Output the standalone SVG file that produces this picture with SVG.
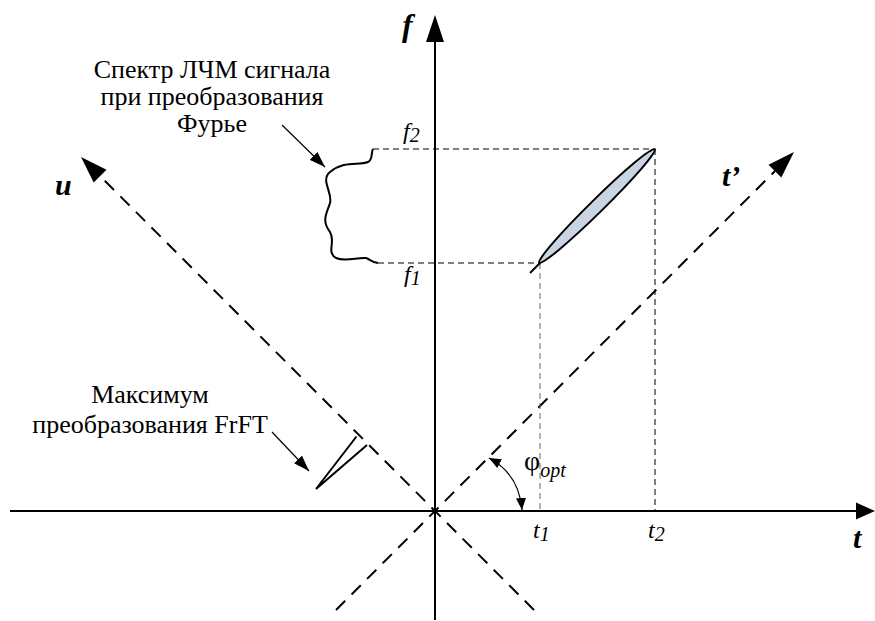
<svg xmlns="http://www.w3.org/2000/svg" width="875" height="621" viewBox="0 0 875 621">
<defs>
<style>
.ax{stroke:#000;stroke-width:2;fill:none}
.dl{stroke:#000;stroke-width:2;fill:none;stroke-dasharray:13 9}
.pr{stroke:#000;stroke-width:1;fill:none;stroke-dasharray:6 4}
.thin{stroke:#000;stroke-width:1.2;fill:none}
.lbl{font-family:"Liberation Serif","Times New Roman",serif;font-size:26px;fill:#000}
.it{font-family:"Liberation Serif","Times New Roman",serif;font-style:italic;fill:#000}
.bi{font-family:"Liberation Serif","Times New Roman",serif;font-style:italic;font-weight:bold;fill:#000}
</style>
<marker id="ah" viewBox="0 0 12 10" refX="12" refY="5" markerWidth="12" markerHeight="10" markerUnits="userSpaceOnUse" orient="auto-start-reverse">
<path d="M0,0 L12,5 L0,10 Z" fill="#000"/>
</marker>
<marker id="ap" viewBox="0 0 16 11" refX="16" refY="5.5" markerWidth="16" markerHeight="11" markerUnits="userSpaceOnUse" orient="auto">
<path d="M0,0 L16,5.5 L0,11 Z" fill="#000"/>
</marker>
</defs>
<g id="axes">
<line class="ax" x1="10" y1="511" x2="857" y2="511"/>
<polygon points="875,511 856,502.5 856,519.5" fill="#000"/>
<line class="ax" x1="435" y1="620" x2="435" y2="40"/>
<polygon points="435,15 426,42 444,42" fill="#000"/>
<line class="dl" x1="336" y1="610" x2="775" y2="171"/>
<polygon points="794,152 781.3,177.5 768.5,164.7" fill="#000"/>
<line class="dl" x1="534" y1="610" x2="100" y2="176"/>
<polygon points="81,157 106.5,169.7 93.7,182.5" fill="#000"/>
</g>
<g id="connectors">
<line class="pr" x1="373" y1="149" x2="655" y2="149"/>
<line class="pr" x1="378" y1="263" x2="540" y2="263"/>
<line class="pr" x1="540" y1="263" x2="540" y2="511" style="stroke:#666"/>
<line class="pr" x1="655" y1="149" x2="655" y2="511"/>
<line class="thin" x1="282" y1="125" x2="325" y2="167" marker-end="url(#ap)"/>
<line class="thin" x1="272" y1="432" x2="309" y2="471" marker-end="url(#ap)"/>
<path class="thin" d="M489,458 Q519,474 522,510" marker-start="url(#ah)" marker-end="url(#ah)"/>
</g>
<g id="spectrum">
<path d="M373,149 C371,152 373,160 368,162 C358,166 345,160 330,172 C320,180 333,193 330,203 C327,213 321,220 330,232 C336,242 326,252 336,258 C345,262 358,257 366,258 C370,259 372,263 378,263" fill="none" stroke="#000" stroke-width="2"/>
</g>
<g id="signal">
<line x1="530" y1="273" x2="540" y2="263" stroke="#000" stroke-width="2"/>
<ellipse cx="597" cy="206" rx="81" ry="6.5" transform="rotate(-44.5 597 206)" fill="#c9d5e3" stroke="#000" stroke-width="2"/>
</g>
<g id="frft-max">
<path d="M356.5,436.5 L316,489 L367,445" fill="none" stroke="#000" stroke-width="2"/>
</g>
<g id="labels">
<text class="lbl" x="212" y="78" text-anchor="middle">Спектр ЛЧМ сигнала</text>
<text class="lbl" x="212" y="105" text-anchor="middle">при преобразования</text>
<text class="lbl" x="212" y="132" text-anchor="middle">Фурье</text>
<text class="lbl" x="150" y="403" text-anchor="middle">Максимум</text>
<text class="lbl" x="150" y="433" text-anchor="middle">преобразования FrFT</text>
<text class="bi" x="402" y="36" font-size="32">f</text>
<text class="bi" x="55" y="195" font-size="30">u</text>
<text class="bi" x="722" y="186" font-size="30">t’</text>
<text class="bi" x="853" y="548" font-size="30">t</text>
<text class="it" x="403" y="139" font-size="24">f<tspan font-size="20" dy="3">2</tspan></text>
<text class="it" x="404" y="282" font-size="24">f<tspan font-size="20" dy="3">1</tspan></text>
<text class="it" x="533" y="538" font-size="24">t<tspan font-size="20" dy="3">1</tspan></text>
<text class="it" x="648" y="538" font-size="24">t<tspan font-size="20" dy="3">2</tspan></text>
<text x="524" y="470" font-family="Liberation Serif, serif" font-size="28">φ<tspan class="it" font-size="20" dy="7">opt</tspan></text>
</g>
</svg>
